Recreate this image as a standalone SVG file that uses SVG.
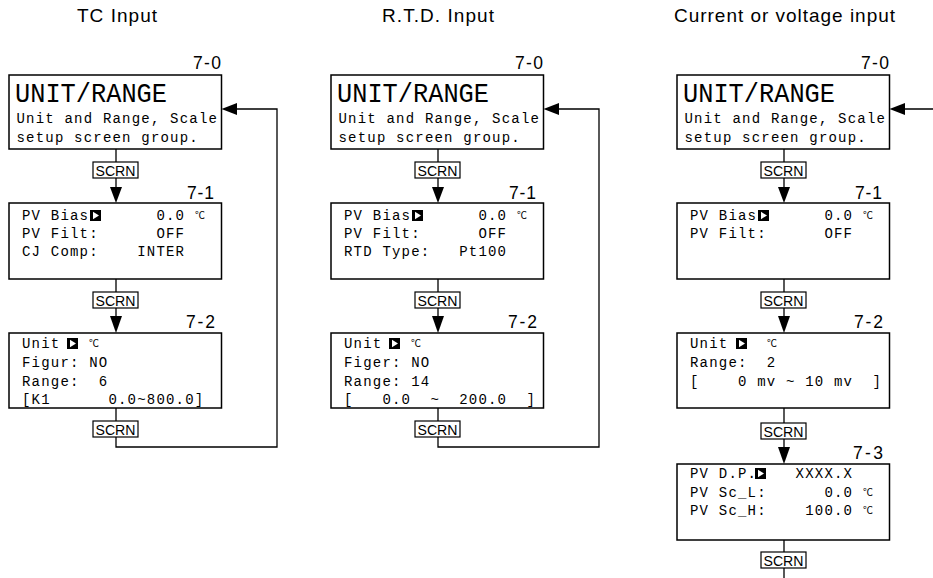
<svg xmlns="http://www.w3.org/2000/svg" xmlns:xlink="http://www.w3.org/1999/xlink" width="933" height="578" viewBox="0 0 933 578">
<style>
.bg{fill:#fff}
.box{fill:#fff;stroke:#000;stroke-width:1.5}
.ln{fill:none;stroke:#000;stroke-width:1.3}
.ah{fill:#000}
.hdr{font-family:"Liberation Sans",Arial,sans-serif;font-size:19px;fill:#000}
.lbl{font-family:"Liberation Sans",Arial,sans-serif;font-size:17.5px;fill:#000}
.sc{font-family:"Liberation Sans",Arial,sans-serif;font-size:15px;fill:#000}
.scb{fill:#fff;stroke:#000;stroke-width:1.2}
.ttl{font-family:"Liberation Mono","Courier New",monospace;font-size:27px;fill:#000}
.m{font-family:"Liberation Mono","Courier New",monospace;font-size:14px;letter-spacing:1.2px;fill:#000;white-space:pre}
.deg{font-family:"Noto Sans CJK SC","DejaVu Sans",sans-serif;font-size:10px;fill:#000}
</style>
<defs>
<g id="cur"><rect x="0" y="0" width="11" height="11" fill="#000"/><polygon points="3,1.8 3,9.2 9,5.5" fill="#fff"/></g>
<g id="scrn"><rect class="scb" x="0" y="0" width="45" height="16"/><text class="sc" x="2.5" y="14.2" textLength="40" lengthAdjust="spacingAndGlyphs">SCRN</text></g>
</defs>
<rect class="bg" x="0" y="0" width="933" height="578"/>

<g id="headers">
<text class="hdr" x="77" y="22" textLength="80">TC Input</text>
<text class="hdr" x="382" y="22" textLength="112">R.T.D. Input</text>
<text class="hdr" x="674" y="22" textLength="221">Current or voltage input</text>
</g>

<g id="connectors">
<!-- column 1 -->
<path class="ln" d="M116,149 V188 M116,279 V317 M116,408 V447 H277 V109 H236"/>
<polygon class="ah" points="110,187 122,187 116,203"/>
<polygon class="ah" points="110,316 122,316 116,333"/>
<polygon class="ah" points="237,103 237,115 221.5,109"/>
<use xlink:href="#scrn" x="93" y="162"/>
<use xlink:href="#scrn" x="93" y="292"/>
<use xlink:href="#scrn" x="93" y="421"/>
<!-- column 2 -->
<path class="ln" d="M438,149 V188 M438,279 V317 M438,408 V447 H599 V109 H558"/>
<polygon class="ah" points="432,187 444,187 438,203"/>
<polygon class="ah" points="432,316 444,316 438,333"/>
<polygon class="ah" points="559,103 559,115 543.5,109"/>
<use xlink:href="#scrn" x="415" y="162"/>
<use xlink:href="#scrn" x="415" y="292"/>
<use xlink:href="#scrn" x="415" y="421"/>
<!-- column 3 -->
<path class="ln" d="M784,149 V188 M784,279 V317 M784,408 V448 M784,540 V578 M933,109 H904"/>
<polygon class="ah" points="778,187 790,187 784,203"/>
<polygon class="ah" points="778,316 790,316 784,333"/>
<polygon class="ah" points="778,447 790,447 784,464"/>
<polygon class="ah" points="905,103 905,115 889.5,109"/>
<use xlink:href="#scrn" x="761" y="162"/>
<use xlink:href="#scrn" x="761" y="292"/>
<use xlink:href="#scrn" x="761" y="423"/>
<use xlink:href="#scrn" x="761" y="552"/>
</g>

<!-- Column 1: TC Input -->
<g id="tc-7-0">
<rect class="box" x="9" y="75" width="212.5" height="74"/>
<text class="lbl" x="193" y="69" textLength="28">7-0</text>
<text class="ttl" x="15" y="101.5" textLength="152" lengthAdjust="spacingAndGlyphs">UNIT/RANGE</text>
<text class="m" x="16.5" y="122.5">Unit and Range, Scale</text>
<text class="m" x="16.5" y="142">setup screen group.</text>
</g>
<g id="tc-7-1">
<rect class="box" x="9" y="203" width="212.5" height="76"/>
<text class="lbl" x="187" y="199" textLength="27">7-1</text>
<text class="m" x="22" y="220">PV Bias</text><use xlink:href="#cur" x="90" y="210"/><text class="m" x="156.4" y="220">0.0</text><text class="deg" x="195" y="219">℃</text>
<text class="m" x="22" y="238">PV Filt:</text><text class="m" x="156.4" y="238">OFF</text>
<text class="m" x="22" y="256">CJ Comp:</text><text class="m" x="137.2" y="256">INTER</text>
</g>
<g id="tc-7-2">
<rect class="box" x="9" y="333" width="212.5" height="75"/>
<text class="lbl" x="186" y="328" textLength="29">7-2</text>
<text class="m" x="22" y="348">Unit</text><use xlink:href="#cur" x="67" y="338"/><text class="deg" x="89" y="347">℃</text>
<text class="m" x="22" y="367">Figur: NO</text>
<text class="m" x="22" y="386">Range:  6</text>
<text class="m" x="22" y="404">[K1      0.0~800.0]</text>
</g>

<!-- Column 2: R.T.D. Input -->
<g id="rtd-7-0">
<rect class="box" x="331" y="75" width="212.5" height="74"/>
<text class="lbl" x="515" y="69" textLength="28">7-0</text>
<text class="ttl" x="337" y="101.5" textLength="152" lengthAdjust="spacingAndGlyphs">UNIT/RANGE</text>
<text class="m" x="338.5" y="122.5">Unit and Range, Scale</text>
<text class="m" x="338.5" y="142">setup screen group.</text>
</g>
<g id="rtd-7-1">
<rect class="box" x="331" y="203" width="212.5" height="76"/>
<text class="lbl" x="509" y="199" textLength="27">7-1</text>
<text class="m" x="344" y="220">PV Bias</text><use xlink:href="#cur" x="412" y="210"/><text class="m" x="478.4" y="220">0.0</text><text class="deg" x="517" y="219">℃</text>
<text class="m" x="344" y="238">PV Filt:</text><text class="m" x="478.4" y="238">OFF</text>
<text class="m" x="344" y="256">RTD Type:</text><text class="m" x="459.2" y="256">Pt100</text>
</g>
<g id="rtd-7-2">
<rect class="box" x="331" y="333" width="212.5" height="75"/>
<text class="lbl" x="508" y="328" textLength="29">7-2</text>
<text class="m" x="344" y="348">Unit</text><use xlink:href="#cur" x="389" y="338"/><text class="deg" x="411" y="347">℃</text>
<text class="m" x="344" y="367">Figer: NO</text>
<text class="m" x="344" y="386">Range: 14</text>
<text class="m" x="344" y="404">[   0.0  ~  200.0  ]</text>
</g>

<!-- Column 3: Current or voltage input -->
<g id="cv-7-0">
<rect class="box" x="677" y="75" width="212.5" height="74"/>
<text class="lbl" x="861" y="69" textLength="28">7-0</text>
<text class="ttl" x="683" y="101.5" textLength="152" lengthAdjust="spacingAndGlyphs">UNIT/RANGE</text>
<text class="m" x="684.5" y="122.5">Unit and Range, Scale</text>
<text class="m" x="684.5" y="142">setup screen group.</text>
</g>
<g id="cv-7-1">
<rect class="box" x="677" y="203" width="212.5" height="76"/>
<text class="lbl" x="855" y="199" textLength="27">7-1</text>
<text class="m" x="690" y="220">PV Bias</text><use xlink:href="#cur" x="758" y="210"/><text class="m" x="824.4" y="220">0.0</text><text class="deg" x="863" y="219">℃</text>
<text class="m" x="690" y="238">PV Filt:</text><text class="m" x="824.4" y="238">OFF</text>
</g>
<g id="cv-7-2">
<rect class="box" x="677" y="333" width="212.5" height="75"/>
<text class="lbl" x="854" y="328" textLength="29">7-2</text>
<text class="m" x="690" y="348">Unit</text><use xlink:href="#cur" x="736" y="338"/><text class="deg" x="767" y="347">℃</text>
<text class="m" x="690" y="367">Range:  2</text>
<text class="m" x="690" y="386">[    0 mv ~ 10 mv  ]</text>
</g>
<g id="cv-7-3">
<rect class="box" x="677" y="464" width="212.5" height="76"/>
<text class="lbl" x="853" y="459" textLength="30">7-3</text>
<text class="m" x="690" y="478">PV D.P.</text><use xlink:href="#cur" x="755" y="468"/><text class="m" x="795.6" y="478">XXXX.X</text>
<text class="m" x="690" y="497">PV Sc_L:</text><text class="m" x="824.4" y="497">0.0</text><text class="deg" x="863" y="496">℃</text>
<text class="m" x="690" y="515">PV Sc_H:</text><text class="m" x="805.2" y="515">100.0</text><text class="deg" x="863" y="514">℃</text>
</g>
</svg>
